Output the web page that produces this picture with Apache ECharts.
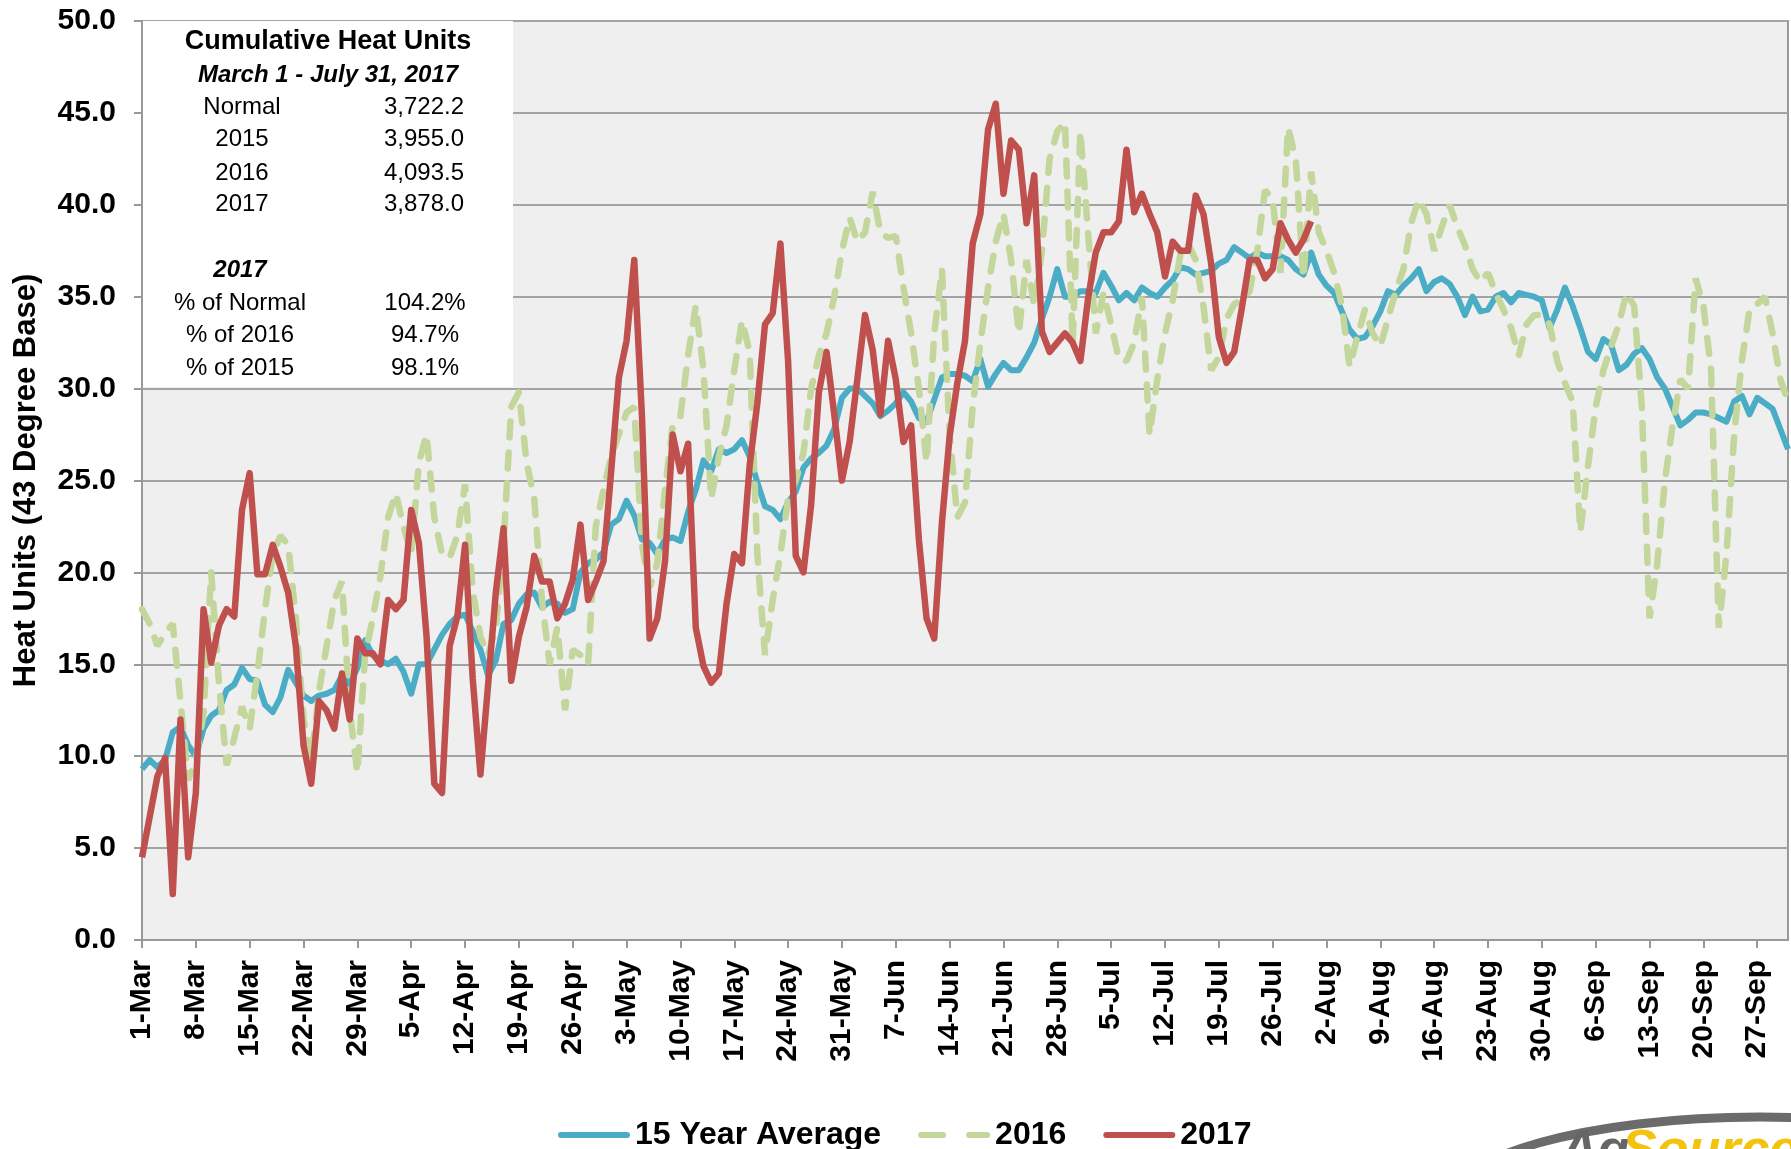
<!DOCTYPE html>
<html>
<head>
<meta charset="utf-8">
<script src="https://cdn.jsdelivr.net/npm/echarts@6/dist/echarts.min.js"></script>
<style>
html, body { margin: 0; padding: 0; background: #fff; }
#main { width: 1791px; height: 1149px; }
</style>
</head>
<body>
<div id="main"></div>
<script>
// daily categories, 1-Mar .. 1-Oct
var monthNames = ['Jan', 'Feb', 'Mar', 'Apr', 'May', 'Jun', 'Jul', 'Aug', 'Sep', 'Oct', 'Nov', 'Dec'];
var categories = [];
for (var i = 0; i < 215; i++) {
    var dt = new Date(2017, 2, 1 + i);
    categories.push(dt.getDate() + '-' + monthNames[dt.getMonth()]);
}

var avg15 = [
    9.3, 9.8, 9.4, 9.8, 11.3, 11.6, 10.6, 10.0, 11.5, 12.2,
    12.5, 13.6, 13.9, 14.8, 14.2, 14.1, 12.8, 12.4, 13.2, 14.7,
    14.0, 13.3, 13.0, 13.3, 13.4, 13.6, 14.4, 13.9, 14.8, 16.3,
    15.5, 15.2, 15.0, 15.3, 14.6, 13.4, 15.0, 15.0, 15.8, 16.6,
    17.2, 17.6, 17.7, 16.8, 15.8, 14.4, 15.2, 17.2, 17.4, 18.3,
    18.8, 18.9, 18.1, 18.4, 18.3, 17.8, 18.0, 20.0, 20.5, 20.7,
    21.1, 22.6, 22.9, 23.9, 23.1, 21.8, 21.6, 21.0, 21.8, 21.9,
    21.7, 23.3, 24.5, 26.1, 25.5, 26.7, 26.5, 26.7, 27.2, 26.3,
    24.9, 23.6, 23.4, 22.9, 23.8, 24.4, 25.7, 26.2, 26.5, 26.9,
    27.8, 29.5, 30.0, 30.0, 29.6, 29.2, 28.5, 28.8, 29.2, 29.8,
    29.3, 28.4, 28.2, 29.4, 30.6, 30.8, 30.8, 30.7, 30.4, 31.6,
    30.1, 30.8, 31.4, 31.0, 31.0, 31.7, 32.5, 33.8, 35.0, 36.5,
    35.0, 35.0, 35.3, 35.3, 35.2, 36.3, 35.6, 34.8, 35.2, 34.8,
    35.5, 35.2, 35.0, 35.5, 35.9, 36.6, 36.5, 36.2, 36.3, 36.4,
    36.8, 37.0, 37.7, 37.4, 37.1, 37.4, 37.2, 37.2, 37.2, 37.0,
    36.5, 36.2, 37.4, 36.2, 35.6, 35.2, 34.2, 33.2, 32.7, 32.8,
    33.4, 34.2, 35.3, 35.1, 35.6, 36.0, 36.5, 35.3, 35.8, 36.0,
    35.7, 35.0, 34.0, 35.0, 34.2, 34.3, 35.0, 35.2, 34.7, 35.2,
    35.1, 35.0, 34.8, 33.3, 34.3, 35.5, 34.5, 33.3, 32.0, 31.6,
    32.7, 32.4, 31.0, 31.3, 31.9, 32.2, 31.6, 30.6, 30.0, 29.0,
    28.0, 28.3, 28.7, 28.7, 28.6, 28.4, 28.2, 29.3, 29.6, 28.6,
    29.5, 29.2, 28.9, 27.8, 26.7
];

var y2016 = [
    18.0, 17.2, 16.0, 16.7, 17.2, 13.0, 8.7, 9.8, 12.3, 20.0,
    14.0, 9.5, 11.0, 12.7, 11.5, 14.5, 18.0, 21.0, 22.0, 21.5,
    17.5, 12.0, 9.8, 13.5, 16.0, 18.5, 19.5, 12.5, 9.1, 15.5,
    17.5, 19.8, 23.0, 24.3, 22.5, 21.0, 26.0, 27.5, 23.0, 21.0,
    20.8, 22.0, 24.8, 19.0, 16.5, 15.5, 17.0, 21.5, 29.0, 29.8,
    26.0, 24.0, 18.5, 15.0, 17.0, 12.5, 15.8, 15.5, 15.0, 22.5,
    24.5, 26.3, 27.5, 28.7, 29.0, 21.5, 19.2, 20.5, 24.5, 28.0,
    28.5, 31.8, 34.5, 31.0, 24.0, 26.3, 28.0, 31.0, 33.7, 32.0,
    21.0, 15.5, 18.5, 21.0, 24.0, 25.0, 26.5, 30.0, 31.8, 33.0,
    35.0, 37.5, 39.3, 38.0, 38.5, 40.7, 38.5, 38.2, 38.3, 35.5,
    33.0, 30.0, 26.0, 33.0, 36.5, 27.5, 23.0, 23.8, 29.0, 32.5,
    35.5, 38.0, 39.5, 37.0, 33.0, 37.0, 34.5, 37.5, 42.5, 44.0,
    44.5, 32.5, 44.0, 38.5, 33.0, 35.2, 33.5, 31.6, 31.5, 32.5,
    35.0, 27.5, 30.5, 33.0, 34.8, 37.3, 37.9, 37.0, 34.5, 31.0,
    31.7, 33.8, 34.6, 34.8, 35.3, 37.5, 40.8, 40.3, 36.3, 44.2,
    42.5, 36.0, 41.8, 38.5, 37.5, 36.3, 34.5, 31.2, 32.8, 34.3,
    33.0, 32.3, 33.8, 35.3, 36.5, 39.0, 40.3, 39.5, 37.5, 38.8,
    40.0, 38.8, 37.8, 36.5, 35.8, 36.3, 35.2, 34.3, 33.3, 31.8,
    33.5, 34.0, 34.0, 33.5, 31.5, 30.3, 29.3, 22.2, 25.8, 29.0,
    31.0, 32.3, 33.5, 35.2, 34.5, 29.0, 17.5, 20.5, 25.0, 28.0,
    30.5, 30.0, 36.0, 34.5, 31.0, 17.0, 21.0, 27.5, 31.5, 34.3,
    34.6, 35.0, 33.0, 30.5, 29.3
];

var y2017 = [
    4.5, 6.7, 8.9, 9.9, 2.5, 12.0, 4.5, 8.0, 18.0, 15.1,
    17.1, 18.0, 17.6, 23.4, 25.4, 19.9, 19.9, 21.5, 20.3, 18.9,
    16.0, 10.6, 8.5, 13.0, 12.5, 11.5, 14.5, 12.0, 16.4, 15.6,
    15.6, 15.0, 18.5, 18.0, 18.5, 23.4, 21.6, 16.5, 8.5, 8.0,
    16.0, 17.6, 21.5, 14.2, 9.0, 13.9, 18.9, 22.4, 14.1, 16.5,
    18.1, 20.9, 19.5, 19.5, 17.5, 18.3, 19.6, 22.6, 18.5, 19.5,
    20.6, 25.5, 30.6, 32.6, 37.0, 28.5, 16.4, 17.5, 20.6, 27.5,
    25.5, 27.0, 17.0, 14.9, 14.0, 14.5, 18.3, 21.0, 20.5, 25.8,
    29.2, 33.5, 34.1, 37.9, 31.5, 20.9, 20.0, 23.7, 29.8, 32.0,
    28.6, 25.0, 27.1, 30.5, 34.0, 32.1, 28.6, 32.6, 30.5, 27.1,
    28.0, 21.8, 17.5, 16.4, 22.7, 27.4, 30.3, 32.6, 37.9, 39.5,
    44.1, 45.5, 40.6, 43.5, 43.0, 39.0, 41.6, 33.1, 32.0, 32.5,
    33.0, 32.5, 31.5, 34.9, 37.4, 38.5, 38.5, 39.1, 43.0, 39.6,
    40.6, 39.5, 38.5, 36.1, 38.0, 37.5, 37.5, 40.5, 39.5, 36.8,
    32.8, 31.4, 32.0, 34.4, 37.0, 37.0, 36.0, 36.5, 39.0, 38.1,
    37.4, 38.1, 39.1
];

var summaryTitle = 'Cumulative Heat Units';
var summaryPeriod = 'March 1 - July 31, 2017';
var totalRows = [['Normal', '3,722.2'], ['2015', '3,955.0'], ['2016', '4,093.5'], ['2017', '3,878.0']];
var pctTitle = '2017';
var pctRows = [['% of Normal', '104.2%'], ['% of 2016', '94.7%'], ['% of 2015', '98.1%']];

var FONT = '"Liberation Sans", Arial, sans-serif';

function txt(x, y, s, font, align, color) {
    return {
        type: 'text', x: x, y: y, z: 20,
        style: { text: s, font: font, fill: color || '#000', align: align || 'center', verticalAlign: 'middle' }
    };
}

var graphics = [
    { type: 'rect', z: 19, shape: { x: 143, y: 21, width: 370, height: 366 }, style: { fill: '#fff' } },
    txt(328, 42, summaryTitle, 'bold 27px ' + FONT),
    txt(328, 75, summaryPeriod, 'italic bold 24px ' + FONT)
];
var rowY = [107, 139, 173, 204];
totalRows.forEach(function (r, k) {
    graphics.push(txt(242, rowY[k], r[0], '24px ' + FONT));
    graphics.push(txt(424, rowY[k], r[1], '24px ' + FONT));
});
graphics.push(txt(240, 270, pctTitle, 'italic bold 24px ' + FONT));
var pctY = [303, 335, 368];
pctRows.forEach(function (r, k) {
    graphics.push(txt(240, pctY[k], r[0], '24px ' + FONT));
    graphics.push(txt(425, pctY[k], r[1], '24px ' + FONT));
});
// logo, cut off at the bottom right
graphics.push({ type: 'ellipse', z: 5, shape: { cx: 1760, cy: 1205, rx: 312, ry: 88 },
    style: { fill: 'none', stroke: '#6b6b6b', lineWidth: 9 } });
graphics.push({ type: 'text', z: 6, x: 1560, y: 1126,
    style: { text: 'Ag', font: 'italic bold 52px ' + FONT, fill: '#666', verticalAlign: 'top' } });
graphics.push({ type: 'text', z: 6, x: 1622, y: 1126,
    style: { text: 'Source', font: 'italic bold 52px ' + FONT, fill: '#f2c40f', verticalAlign: 'top' } });

var dashIcon = 'path://M3,0h22a3,3 0 0 1 0,6h-22a3,3 0 0 1 0,-6z M51,0h18a3,3 0 0 1 0,6h-18a3,3 0 0 1 0,-6z';
var solidIcon = 'path://M3,0h66a3,3 0 0 1 0,6h-66a3,3 0 0 1 0,-6z';

var myChart = echarts.init(document.getElementById('main'));
var option = {
    animation: false,
    backgroundColor: '#fff',
    grid: {
        left: 142, right: 3, top: 21, bottom: 209,
        show: true, backgroundColor: '#efefef', borderColor: '#999', borderWidth: 2
    },
    legend: {
        left: 553, top: 1114,
        itemWidth: 72, itemHeight: 6, itemGap: 37,
        textStyle: { fontSize: 32, fontWeight: 'bold', color: '#000', fontFamily: FONT },
        data: [
            { name: '15 Year Average', icon: solidIcon },
            { name: '2016', icon: dashIcon },
            { name: '2017', icon: solidIcon }
        ]
    },
    xAxis: {
        type: 'category',
        boundaryGap: false,
        data: categories,
        axisLine: { lineStyle: { color: '#999', width: 2 } },
        axisTick: { interval: 6, length: 8, lineStyle: { color: '#999', width: 2 } },
        axisLabel: {
            interval: 6, rotate: 90, margin: 20,
            fontSize: 30, fontWeight: 'bold', color: '#000', fontFamily: FONT
        },
        splitLine: { show: false }
    },
    yAxis: {
        type: 'value',
        min: 0, max: 50, interval: 5,
        name: 'Heat Units (43 Degree Base)',
        nameLocation: 'middle',
        nameGap: 100,
        nameTextStyle: { fontSize: 31, fontWeight: 'bold', color: '#000', fontFamily: FONT },
        axisLine: { show: true, lineStyle: { color: '#999', width: 2 } },
        axisTick: { show: true, length: 8, lineStyle: { color: '#999', width: 2 } },
        axisLabel: {
            margin: 26, fontSize: 30, fontWeight: 'bold', color: '#000', fontFamily: FONT,
            formatter: function (v) { return v.toFixed(1); }
        },
        splitLine: { lineStyle: { color: '#a3a3a3', width: 2 } }
    },
    series: [
        {
            name: '15 Year Average', type: 'line', data: avg15,
            symbol: 'none', color: '#4bacc6',
            lineStyle: { width: 6, color: '#4bacc6', join: 'round' }
        },
        {
            name: '2016', type: 'line', data: y2016,
            symbol: 'none', color: '#c3d69b',
            lineStyle: { width: 6.5, color: '#c3d69b', type: [16, 15], cap: 'round' }
        },
        {
            name: '2017', type: 'line', data: y2017,
            symbol: 'none', color: '#c0504d',
            lineStyle: { width: 6.5, color: '#c0504d', join: 'round' }
        }
    ],
    graphic: graphics
};
myChart.setOption(option);
</script>
</body>
</html>
